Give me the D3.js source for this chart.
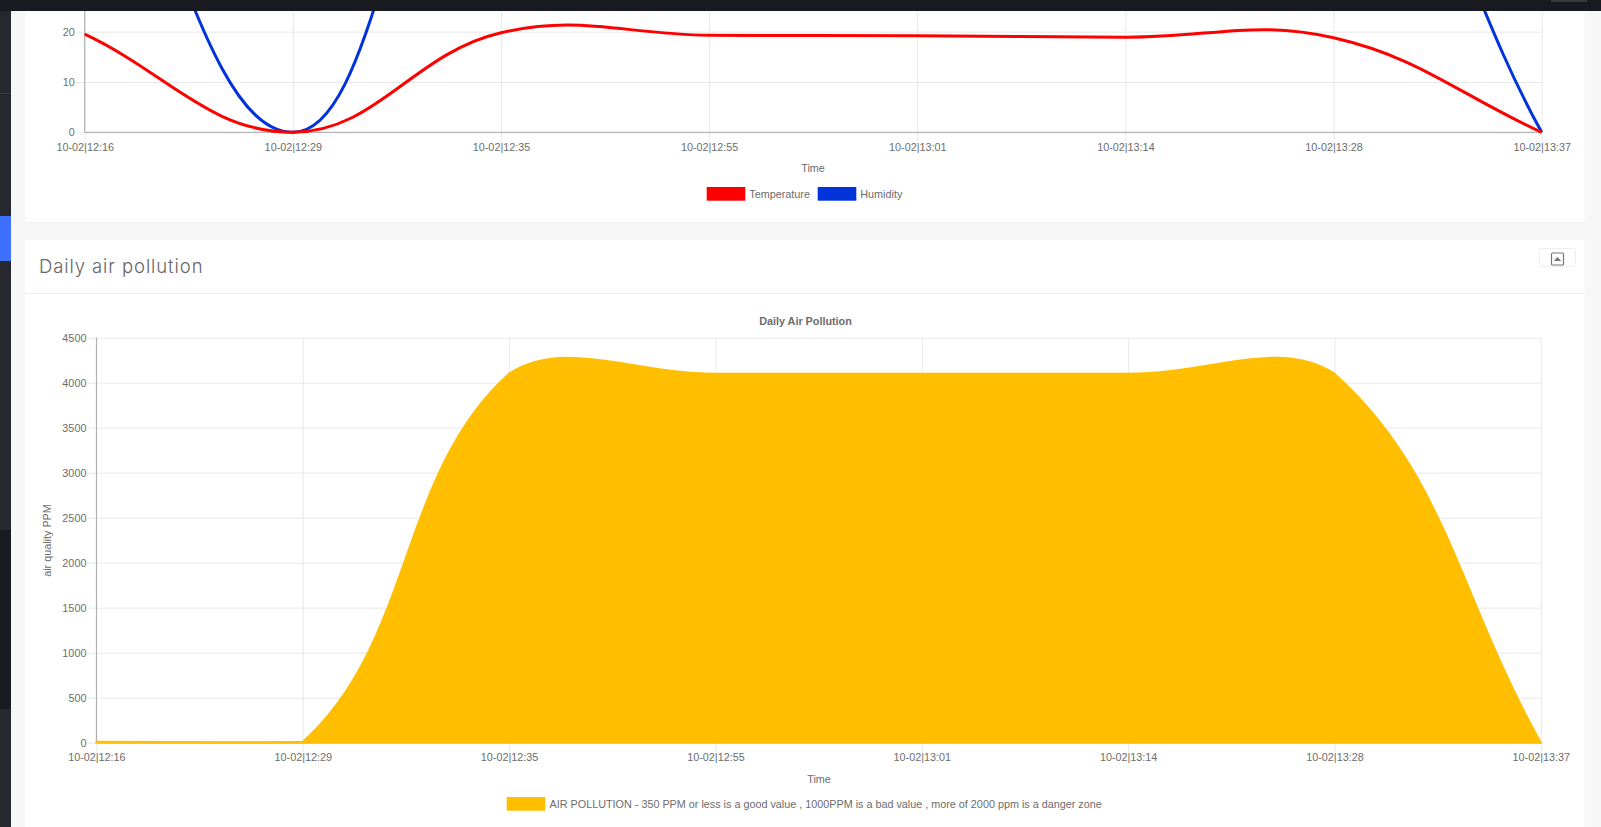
<!DOCTYPE html>
<html>
<head>
<meta charset="utf-8">
<title>Daily air pollution</title>
<script src="https://cdn.jsdelivr.net/npm/d3@7"></script>
<style>
  html, body { margin: 0; padding: 0; background: #f7f7f7; overflow: hidden; }
  svg { display: block; }
  text { font-family: "Liberation Sans", Arial, sans-serif; fill: #6c6c6c; font-size: 10.8px; }
  .tick text { fill: #6c6c6c; font-size: 10.8px; }
  .domain { display: none; }
  .tick line { stroke: #e8e8e8; }
  .baseline { stroke: #a8a8a8; }
</style>
</head>
<body>
<svg id="page" width="1601" height="827"></svg>
<script>
// tick labels shared by both charts
var timeLabels = ['10-02|12:16', '10-02|12:29', '10-02|12:35', '10-02|12:55', '10-02|13:01', '10-02|13:14', '10-02|13:28', '10-02|13:37']

// top chart, humidity runs off the visible part of the page
var temperature = [19.5, 0, 19.8, 19.3, 19.2, 18.9, 18.8, 0]
var humidity = [78, 0, 78, 72, 72, 72, 75, 0]
var climateTicks = [0, 10, 20]

// bottom chart
var pollution = [10, 10, 4100, 4100, 4100, 4100, 4100, 0]
var pollutionTicks = [0, 500, 1000, 1500, 2000, 2500, 3000, 3500, 4000, 4500]

var legendText = 'AIR POLLUTION - 350 PPM or less is a good value , 1000PPM is a bad value , more of 2000 ppm is a danger zone'

var svg = d3.select('#page')

// same spline the original chart lib uses, with control points capped to the plot area
function splineCurve(top, bottom) {
  return function(context) {
    var pts = []
    var inArea = false
    var lineCount = 0
    return {
      areaStart: function() { inArea = true; lineCount = 0 },
      areaEnd: function() { context.closePath(); inArea = false },
      lineStart: function() { pts = [] },
      point: function(x, y) { pts.push([+x, +y]) },
      lineEnd: function() {
        var cps = pts.map(function(p, i) {
          var prev = pts[i - 1] || p
          var next = pts[i + 1] || p
          var d01 = Math.hypot(p[0] - prev[0], p[1] - prev[1])
          var d12 = Math.hypot(next[0] - p[0], next[1] - p[1])
          var sum = (d01 + d12) || 1
          var fa = 0.4 * d01 / sum
          var fb = 0.4 * d12 / sum
          var cap = function(v) { return Math.max(top, Math.min(bottom, v)) }
          return {
            inX: p[0] - fa * (next[0] - prev[0]),
            inY: cap(p[1] - fa * (next[1] - prev[1])),
            outX: p[0] + fb * (next[0] - prev[0]),
            outY: cap(p[1] + fb * (next[1] - prev[1]))
          }
        })
        pts.forEach(function(p, i) {
          if (i === 0) {
            if (inArea && lineCount > 0) context.lineTo(p[0], p[1])
            else context.moveTo(p[0], p[1])
          } else {
            context.bezierCurveTo(cps[i - 1].outX, cps[i - 1].outY, cps[i].inX, cps[i].inY, p[0], p[1])
          }
        })
        lineCount++
      }
    }
  }
}

function drawAxes(g, x, y, yTicks, bottom, top) {
  var left = x.range()[0]
  var right = x.range()[1]

  var gy = g.append('g').attr('transform', 'translate(' + left + ',0)')
    .call(d3.axisLeft(y).tickValues(yTicks).tickFormat(d3.format('d')).tickSize(0).tickPadding(10))
  gy.selectAll('.tick line').attr('x1', -9).attr('x2', right - left)

  var gx = g.append('g').attr('transform', 'translate(0,' + bottom + ')')
    .call(d3.axisBottom(x).tickSize(0).tickPadding(10))
  gx.selectAll('.tick line').attr('y1', top - bottom).attr('y2', 9)
  gx.selectAll('.tick text').attr('y', 11).attr('dy', '0.71em')

  g.append('line').attr('class', 'baseline')
    .attr('x1', left).attr('x2', left).attr('y1', top).attr('y2', bottom)
  g.append('line').attr('class', 'baseline')
    .attr('x1', left).attr('x2', right).attr('y1', bottom).attr('y2', bottom)
}

function legendItem(g, label, color, boxX, textX, boxY) {
  g.append('rect').attr('x', boxX).attr('y', boxY).attr('width', 38.6).attr('height', 13.7).attr('fill', color)
  g.append('text').attr('x', textX).attr('y', boxY + 7).attr('dy', '0.35em').text(label)
}

// page chrome
svg.append('rect').attr('x', 25).attr('y', 0).attr('width', 1559.5).attr('height', 222).attr('fill', '#fff')
svg.append('line').attr('x1', 25).attr('x2', 1584.5).attr('y1', 222.5).attr('y2', 222.5).attr('stroke', '#efefef')
svg.append('rect').attr('x', 25).attr('y', 240).attr('width', 1559.5).attr('height', 587).attr('fill', '#fff')
svg.append('line').attr('x1', 25).attr('x2', 1584.5).attr('y1', 293.5).attr('y2', 293.5).attr('stroke', '#efefef')

svg.append('text').attr('x', 39).attr('y', 272.6)
  .style('font-family', 'Inter, sans-serif').style('font-weight', 300).style('font-size', '18.5px')
  .style('letter-spacing', '0.9px').style('fill', '#666')
  .text('Daily air pollution')

// collapse button
svg.append('rect').attr('x', 1539.5).attr('y', 248.5).attr('width', 36).attr('height', 18).attr('rx', 2)
  .attr('fill', '#fff').attr('stroke', '#eee')
svg.append('rect').attr('x', 1551.5).attr('y', 253).attr('width', 12).attr('height', 12).attr('rx', 1)
  .attr('fill', '#fff').attr('stroke', '#777').attr('stroke-width', 1.2)
svg.append('path').attr('d', 'M1553.8 261 L1557.5 257 L1561.2 261 Z').attr('fill', '#777')

// top chart
var climate = svg.append('g')
var climateBottom = 132.3
var climateTop = -370.7
var climateX = d3.scalePoint().domain(timeLabels).range([84.7, 1541.7])
var climateY = d3.scaleLinear().domain([0, 100]).range([climateBottom, climateTop])
drawAxes(climate, climateX, climateY, climateTicks, climateBottom, climateTop)

var climateLine = d3.line()
  .x(function(d, i) { return climateX(timeLabels[i]) })
  .y(function(d) { return climateY(d) })
  .curve(splineCurve(climateTop, climateBottom))

climate.append('path').attr('d', climateLine(humidity))
  .attr('fill', 'none').attr('stroke', '#0033d9').attr('stroke-width', 3)
climate.append('path').attr('d', climateLine(temperature))
  .attr('fill', 'none').attr('stroke', '#f00').attr('stroke-width', 3)

climate.append('text').attr('x', 813).attr('y', 168.3).attr('dy', '0.35em').attr('text-anchor', 'middle').text('Time')
legendItem(climate, 'Temperature', '#f00', 706.7, 749.3, 187)
legendItem(climate, 'Humidity', '#0033d9', 817.7, 860.3, 187)

// bottom chart
var air = svg.append('g')
var airBottom = 742.7
var airTop = 337.7
var airX = d3.scalePoint().domain(timeLabels).range([96.4, 1540.8])
var airY = d3.scaleLinear().domain([0, 4500]).range([airBottom, airTop])
drawAxes(air, airX, airY, pollutionTicks, airBottom, airTop)

var airArea = d3.area()
  .x(function(d, i) { return airX(timeLabels[i]) })
  .y0(airBottom)
  .y1(function(d) { return airY(d) })
  .curve(splineCurve(airTop, airBottom))

air.append('path').attr('d', airArea(pollution))
  .attr('fill', '#ffbf00').attr('stroke', '#ffbf00').attr('stroke-width', 2)

air.append('text').attr('x', 805.5).attr('y', 321).attr('dy', '0.35em').attr('text-anchor', 'middle')
  .style('font-weight', 'bold').text('Daily Air Pollution')
air.append('text').attr('transform', 'translate(47,540.5) rotate(-90)').attr('dy', '0.35em').attr('text-anchor', 'middle')
  .text('air quality PPM')
air.append('text').attr('x', 819).attr('y', 779.2).attr('dy', '0.35em').attr('text-anchor', 'middle').text('Time')
legendItem(air, legendText, '#ffbf00', 506.7, 549.6, 797)

// dashboard frame sits over the scrolled page
svg.append('rect').attr('x', 0).attr('y', 0).attr('width', 1601).attr('height', 11).attr('fill', '#191a1f')
svg.append('rect').attr('x', 1551).attr('y', 0).attr('width', 36).attr('height', 2).attr('fill', '#3a3b40')
svg.append('rect').attr('x', 0).attr('y', 11).attr('width', 11).attr('height', 816).attr('fill', '#27282d')
svg.append('rect').attr('x', 0).attr('y', 93).attr('width', 11).attr('height', 1).attr('fill', '#3a3b40')
svg.append('rect').attr('x', 0).attr('y', 530).attr('width', 11).attr('height', 179).attr('fill', '#1a1b20')
svg.append('rect').attr('x', 0).attr('y', 216).attr('width', 11).attr('height', 45).attr('fill', '#3f6fff')
</script>
</body>
</html>
